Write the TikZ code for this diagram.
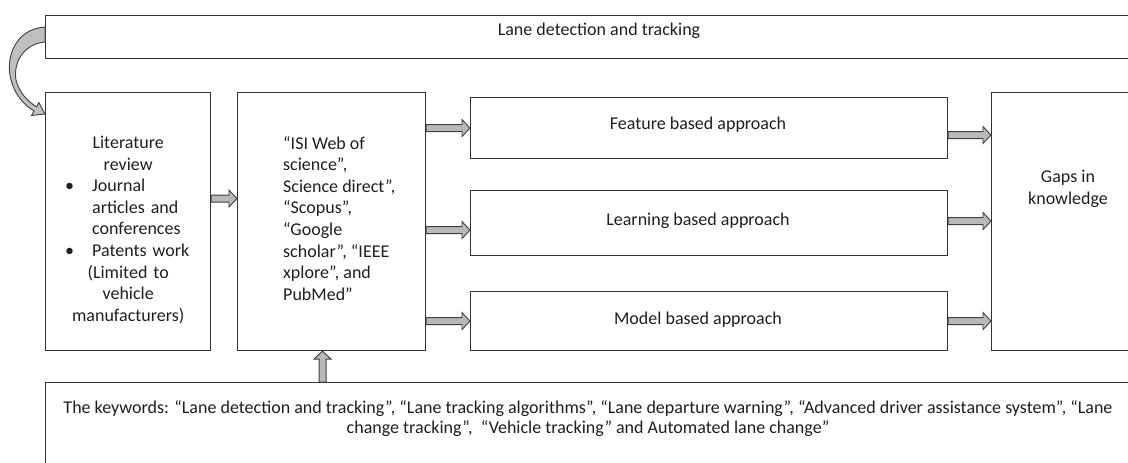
\documentclass[tikz,border=0pt]{standalone}
\usepackage{fontspec}
\setmainfont{Carlito}
\usetikzlibrary{calc}
\tikzset{
  box/.style={draw=black!80, line width=1.1pt, inner sep=0pt, anchor=north west},
  txt/.style={inner sep=0pt, font=\fontsize{18}{21.6}\selectfont, text=black!88},
  blockarrow/.style={draw=black!75, fill=gray!55, line width=0.9pt, line join=miter},
}
\newcommand\harrow[2]{\path[blockarrow] let \p1=(#1), \p2=(#2) in
  (\x1,\y1-3.5pt) -- (\x2-8pt,\y1-3.5pt) -- (\x2-8pt,\y1-8.5pt) -- (\x2,\y1)
  -- (\x2-8pt,\y1+8.5pt) -- (\x2-8pt,\y1+3.5pt) -- (\x1,\y1+3.5pt) -- cycle;}
\newcommand\varrow[2]{\path[blockarrow] let \p1=(#1), \p2=(#2) in
  (\x1-3.5pt,\y1) -- (\x1-3.5pt,\y2-8pt) -- (\x1-8.5pt,\y2-8pt) -- (\x1,\y2)
  -- (\x1+8.5pt,\y2-8pt) -- (\x1+3.5pt,\y2-8pt) -- (\x1+3.5pt,\y1) -- cycle;}
\begin{document}
\begin{tikzpicture}[x=1pt, y=-1pt]
\useasboundingbox (0,0) rectangle (1128,463);
\clip (0,0) rectangle (1128,463);
\fill[white] (0,0) rectangle (1128,463);

% boxes
\node[box, minimum width=1110pt, minimum height=43pt] (top) at (45,15) {};
\node[box, minimum width=165pt, minimum height=258pt] (lit) at (45,92) {};
\node[box, minimum width=188pt, minimum height=258pt] (db) at (237,92) {};
\node[box, minimum width=477pt, minimum height=61pt] (feat) at (470,97) {};
\node[box, minimum width=477pt, minimum height=65pt] (learn) at (470,190) {};
\node[box, minimum width=477pt, minimum height=59pt] (model) at (470,291) {};
\node[box, minimum width=160pt, minimum height=258pt] (gaps) at (991,92) {};
\node[box, minimum width=1090pt, minimum height=100pt] (keys) at (45,382) {};

% texts
\node[txt] (toptext) at (599,31) {Lane detection and tracking};
\node[txt, anchor=north west, text width=150pt, align=left] (littext) at (53,136) {%
\makebox[150pt][c]{Literature}\\
\makebox[150pt][c]{review}\\
\hspace*{12pt}\makebox[27pt][l]{•}Journal\\
\hspace*{39pt}articles and\\
\hspace*{39pt}conferences\\
\hspace*{12pt}\makebox[27pt][l]{•}Patents work\\
\makebox[150pt][c]{(Limited to}\\
\makebox[150pt][c]{vehicle}\\
\makebox[150pt][c]{manufacturers)}};
\node[txt, anchor=north west, align=left] (dbtext) at (283,136) {%
“ISI Web of\\ science”,\\ Science direct”,\\ “Scopus”,\\ “Google\\ scholar”, “IEEE\\ xplore”, and\\ PubMed”};
\node[txt] (feattext) at (698,125) {Feature based approach};
\node[txt] (learntext) at (698,221) {Learning based approach};
\node[txt] (modeltext) at (698,320) {Model based approach};
\node[txt, anchor=north, align=center] (gapstext) at (1068,170) {Gaps in\\ knowledge};
\node[txt, font=\fontsize{18}{20}\selectfont, anchor=north, align=center] (keytext) at (588,400) {%
The keywords: “Lane detection and tracking”, “Lane tracking algorithms”, “Lane departure warning”, “Advanced driver assistance system”, “Lane\\
change tracking”,\ \ “Vehicle tracking” and Automated lane change”};

% block arrows
\harrow{$(lit.east)+(0,-23)$}{db.west}
\harrow{db.east |- feat.west}{feat.west}
\harrow{$(db.east |- learn.west)+(0,7)$}{learn.west}
\harrow{db.east |- model.west}{model.west}
\harrow{$(feat.east)+(0,7)$}{gaps.west}
\harrow{$(learn.east)+(0,-2)$}{gaps.west}
\harrow{model.east}{gaps.west}
\varrow{$(keys.north -| db.south)+(-9,0)$}{db.south}

% curved arrow from top box to literature review
\path[blockarrow, fill=gray!50] (45,27) .. controls (15,29) and (5,58) .. (11,80)
  .. controls (15,95) and (24,105) .. (34,111) -- (31.5,115.5) -- (45,114)
  -- (38.8,102.5) -- (36.6,106.8) .. controls (27,101) and (19,92) .. (16,80)
  .. controls (13,62) and (24,44) .. (45,42) -- cycle;
\end{tikzpicture}
\end{document}
